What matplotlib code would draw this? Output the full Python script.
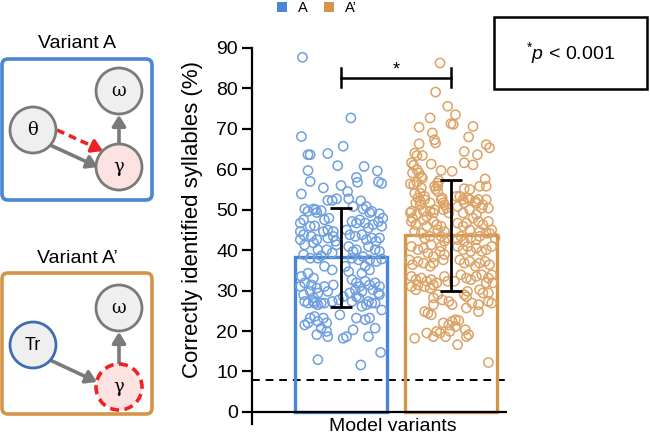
import matplotlib
matplotlib.use("Agg")
import matplotlib.pyplot as plt
from matplotlib.patches import FancyBboxPatch, Circle, FancyArrowPatch, Rectangle
import numpy as np

plt.rcParams['font.family'] = ['Liberation Sans', 'DejaVu Sans']
plt.rcParams['mathtext.fontset'] = 'custom'
plt.rcParams['mathtext.rm'] = 'Liberation Sans'
plt.rcParams['mathtext.it'] = 'Liberation Sans:italic'

# ---------------- data ----------------
categories = ["A", "A\u2019"]
bar_means = [38.2, 43.7]
bar_sd = [12.2, 13.7]
chance_level = 7.8
sig_label = "*"
y_ticks = [0, 10, 20, 30, 40, 50, 60, 70, 80, 90]

# individual points: (horizontal jitter offset within bar, value %)
points_A = [
    (-0.35, 87.7), (0.09, 72.7), (-0.36, 68.1), (-0.30, 63.6), (-0.28, 63.6), (-0.12, 63.9),
    (0.02, 65.7), (-0.30, 59.7), (-0.03, 60.9), (0.21, 60.7), (0.33, 59.6), (-0.28, 57.0),
    (0.14, 58.0), (0.15, 56.8), (0.34, 56.9), (0.37, 56.5), (-0.36, 53.9), (-0.16, 55.4),
    (0.00, 56.0), (0.06, 54.5), (-0.12, 52.3), (-0.08, 52.3), (-0.04, 52.7), (0.07, 52.7),
    (0.18, 52.2), (-0.33, 50.2), (-0.30, 49.6), (-0.25, 50.2), (-0.23, 50.0), (-0.18, 49.8),
    (0.11, 50.8), (0.20, 50.2), (0.26, 49.3), (0.28, 49.6), (0.35, 49.0), (-0.22, 49.3),
    (0.23, 50.8), (0.38, 47.9), (-0.37, 46.7), (-0.34, 47.5), (-0.28, 45.9), (-0.24, 46.0),
    (-0.15, 47.5), (-0.11, 47.9), (0.10, 47.1), (0.14, 46.7), (0.17, 47.5), (-0.37, 44.6),
    (-0.34, 43.8), (-0.37, 42.6), (-0.27, 43.4), (-0.22, 42.6), (-0.16, 44.6), (-0.12, 45.0),
    (-0.07, 44.6), (-0.12, 43.0), (-0.07, 43.4), (-0.05, 42.2), (-0.04, 41.3), (0.05, 45.0),
    (0.08, 43.8), (0.13, 43.4), (0.22, 46.7), (0.25, 45.5), (0.29, 46.3), (0.34, 47.1),
    (0.37, 45.9), (0.19, 43.8), (0.23, 42.6), (0.28, 43.0), (0.32, 42.2), (0.35, 43.0),
    (-0.33, 41.3), (-0.25, 41.8), (-0.21, 40.1), (-0.13, 40.1), (-0.08, 39.3), (0.07, 40.9),
    (0.11, 39.7), (0.14, 40.1), (0.25, 40.9), (0.31, 40.1), (0.35, 39.7), (-0.34, 38.9),
    (-0.28, 38.0), (-0.21, 38.0), (-0.18, 38.6), (0.10, 38.0), (0.16, 37.6), (0.20, 38.4),
    (0.26, 37.6), (0.32, 37.2), (0.37, 37.8), (-0.15, 36.0), (-0.08, 35.1), (0.04, 36.0),
    (0.07, 34.7), (0.22, 36.0), (0.26, 35.1), (0.19, 34.3), (-0.36, 33.5), (-0.30, 34.3),
    (-0.25, 33.1), (-0.33, 31.9), (-0.37, 31.0), (-0.27, 31.4), (-0.22, 30.6), (-0.28, 29.8),
    (-0.21, 29.4), (-0.34, 29.0), (-0.25, 28.2), (-0.15, 31.0), (-0.12, 29.8), (-0.07, 31.4),
    (0.10, 32.7), (0.14, 31.9), (0.17, 31.0), (0.13, 30.2), (0.08, 29.4), (0.19, 29.8),
    (0.14, 28.5), (0.22, 32.3), (0.26, 31.4), (0.31, 31.9), (0.35, 31.0), (0.29, 30.2),
    (0.34, 29.4), (-0.33, 27.3), (-0.24, 26.9), (-0.15, 26.9), (0.25, 27.3), (0.31, 26.9),
    (0.10, 27.3), (-0.30, 26.9), (-0.25, 27.3), (-0.21, 26.5), (-0.18, 26.9), (-0.08, 27.3),
    (-0.02, 27.7), (0.02, 28.5), (0.16, 28.2), (0.19, 26.1), (0.23, 26.5), (0.28, 26.9),
    (0.35, 29.0), (0.37, 25.2), (-0.28, 23.2), (-0.24, 23.6), (-0.21, 22.4), (-0.16, 23.2),
    (-0.13, 22.0), (-0.33, 21.5), (-0.30, 22.0), (-0.18, 20.7), (-0.13, 19.9), (-0.22, 19.1),
    (-0.12, 18.6), (-0.01, 24.0), (0.14, 23.2), (0.11, 20.3), (0.02, 18.2), (0.05, 18.6),
    (0.22, 22.8), (0.26, 23.2), (0.31, 20.7), (0.25, 18.6), (-0.21, 12.9), (0.18, 11.6),
    (0.36, 14.7),
]

points_B = [
    (-0.10, 86.3), (-0.14, 79.1), (-0.03, 75.6), (0.04, 73.5), (0.00, 71.3), (0.02, 71.1),
    (-0.19, 72.7), (-0.29, 70.4), (-0.17, 69.0), (-0.15, 67.3), (-0.14, 66.5), (-0.29, 66.3),
    (-0.33, 64.0), (-0.31, 63.4), (-0.26, 63.4), (-0.36, 61.6), (-0.34, 61.0), (-0.18, 61.3),
    (0.12, 64.4), (0.16, 68.0), (0.20, 70.6), (0.12, 61.6), (0.20, 61.1), (0.24, 63.6),
    (0.35, 65.3), (0.32, 66.1), (0.01, 59.5), (-0.09, 59.7), (-0.31, 59.9), (-0.29, 59.1),
    (-0.26, 57.8), (-0.11, 57.2), (-0.12, 55.9), (-0.14, 55.1), (-0.12, 54.5), (-0.37, 56.4),
    (-0.34, 56.2), (-0.31, 56.8), (-0.27, 55.4), (-0.28, 54.1), (0.12, 55.2), (0.31, 57.6),
    (0.32, 55.8), (0.26, 55.8), (0.17, 55.0), (0.08, 53.3), (0.11, 52.5), (0.17, 52.5),
    (0.22, 52.1), (0.25, 52.5), (-0.30, 52.9), (-0.28, 52.1), (-0.24, 52.5), (-0.19, 51.7),
    (-0.08, 52.9), (-0.07, 51.7), (-0.04, 50.4), (-0.02, 49.2), (-0.37, 49.2), (-0.31, 48.8),
    (-0.25, 49.6), (-0.16, 49.2), (-0.15, 50.0), (-0.22, 48.3), (0.11, 49.2), (0.17, 50.0),
    (0.23, 48.8), (0.23, 51.6), (0.29, 51.2), (-0.35, 59.1), (-0.27, 58.2), (-0.15, 55.8),
    (-0.12, 56.6), (-0.24, 53.3), (-0.33, 54.1), (-0.32, 51.7), (-0.28, 51.2), (-0.36, 49.6),
    (-0.35, 47.9), (-0.19, 49.6), (-0.09, 52.5), (-0.06, 51.2), (-0.07, 50.0), (0.05, 53.3),
    (0.12, 51.7), (0.06, 50.8), (0.15, 52.9), (0.32, 52.5), (0.28, 50.4), (0.34, 50.4),
    (-0.36, 47.1), (-0.32, 46.3), (-0.25, 47.5), (-0.22, 45.9), (-0.16, 47.1), (-0.13, 46.3),
    (-0.12, 45.0), (-0.09, 45.9), (-0.06, 44.6), (0.06, 46.7), (0.11, 45.9), (0.14, 46.7),
    (0.17, 45.0), (0.20, 47.9), (0.25, 47.1), (0.29, 46.3), (0.34, 47.1), (0.37, 45.0),
    (0.32, 44.2), (0.26, 44.6), (-0.33, 44.6), (-0.27, 44.2), (-0.24, 43.0), (-0.19, 43.4),
    (-0.09, 43.4), (-0.06, 42.2), (-0.03, 43.0), (0.06, 42.6), (0.12, 42.2), (0.09, 43.4),
    (0.18, 43.0), (0.23, 42.6), (0.26, 43.4), (0.35, 44.2), (0.40, 43.0), (-0.36, 40.9),
    (-0.30, 40.1), (-0.25, 40.5), (-0.18, 41.3), (-0.21, 39.3), (-0.16, 38.4), (-0.09, 40.9),
    (-0.10, 39.7), (-0.06, 38.9), (-0.07, 37.6), (0.06, 40.9), (0.11, 40.1), (0.15, 40.9),
    (0.18, 39.7), (0.23, 40.5), (0.28, 39.7), (0.32, 40.1), (0.37, 40.9), (-0.38, 37.6),
    (-0.35, 36.4), (-0.30, 37.2), (-0.25, 36.8), (-0.19, 36.0), (-0.16, 36.8), (0.08, 37.6),
    (0.12, 36.8), (0.17, 37.2), (0.22, 36.0), (0.26, 36.8), (0.31, 37.2), (0.35, 36.4),
    (-0.36, 33.5), (-0.32, 32.7), (-0.27, 33.1), (-0.22, 32.3), (-0.18, 32.7), (-0.13, 31.9),
    (-0.30, 31.4), (-0.06, 33.5), (-0.03, 32.3), (0.03, 32.3), (0.09, 33.9), (0.14, 33.1),
    (0.18, 32.7), (0.23, 33.5), (0.28, 33.9), (0.34, 33.1), (0.37, 33.9), (0.32, 31.9),
    (0.38, 31.9), (-0.36, 31.0), (-0.32, 30.2), (-0.24, 31.0), (-0.19, 30.6), (-0.16, 31.4),
    (0.15, 29.8), (0.26, 30.2), (0.34, 29.4), (-0.12, 29.0), (0.12, 29.0), (-0.16, 28.2),
    (-0.08, 27.7), (-0.02, 27.3), (0.01, 26.5), (0.14, 28.5), (0.19, 26.9), (0.25, 26.5),
    (0.29, 29.4), (0.34, 27.3), (0.37, 26.9), (-0.24, 24.8), (-0.21, 24.4), (-0.18, 24.0),
    (-0.16, 26.5), (0.14, 25.7), (0.25, 24.8), (-0.07, 22.0), (-0.02, 21.5), (0.01, 22.4),
    (0.04, 22.8), (0.07, 22.6), (-0.13, 19.9), (-0.10, 19.5), (-0.05, 18.6), (-0.01, 19.9),
    (0.04, 21.1), (-0.33, 18.2), (-0.22, 19.5), (-0.16, 18.6), (0.13, 20.3), (0.16, 19.1),
    (0.14, 18.6), (0.06, 16.6), (0.34, 12.2),
]

# ---------------- style ----------------
blue = "#4a86d2"
blue_pt = "#6f9fe0"
orange = "#d4954a"
orange_pt = "#dda265"
W, H = 650, 436
fig = plt.figure(figsize=(W / 100, H / 100), dpi=100)

ax = fig.add_axes([252 / W, (H - 424) / H, (507 - 252) / W, (424 - 48) / H])
xpos = [1, 2]
ax.set_xlim(0.191, 2.509)
ax.set_ylim(-3, 90)

bar_colors = [blue, orange]
pt_colors = [blue_pt, orange_pt]
for xi, m, c in zip(xpos, bar_means, bar_colors):
    ax.bar(xi, m, width=0.845, facecolor="none", edgecolor=c, linewidth=2.4, zorder=2)

for xi, pts, c in zip(xpos, [points_A, points_B], pt_colors):
    xs = [xi + p[0] for p in pts]
    ys = [p[1] for p in pts]
    ax.scatter(xs, ys, s=44, facecolors="none", edgecolors=c, linewidths=1.1, zorder=3)

ax.errorbar(xpos, bar_means, yerr=bar_sd, fmt="none", ecolor="black", elinewidth=2,
            capsize=8, capthick=2, zorder=5)

ax.axhline(chance_level, color="black", linestyle=(0, (4, 3)), linewidth=1.4, zorder=1)
ax.axhline(0, color="black", linewidth=1.6, zorder=6)

# significance bracket
yb, yt0, yt1 = 82.6, 80.3, 85.0
ax.plot([xpos[0], xpos[1]], [yb, yb], color="black", lw=1.8, zorder=6)
ax.plot([xpos[0], xpos[0]], [yt0, yt1], color="black", lw=1.8, zorder=6)
ax.plot([xpos[1], xpos[1]], [yt0, yt1], color="black", lw=1.8, zorder=6)
ax.text((xpos[0] + xpos[1]) / 2, 84.6, sig_label, ha="center", va="center", fontsize=13)

for s in ["top", "right", "bottom"]:
    ax.spines[s].set_visible(False)
ax.spines["left"].set_linewidth(1.6)
ax.spines["left"].set_bounds(-3, 90)
ax.set_xticks([])
ax.set_yticks(y_ticks)
ax.tick_params(axis="y", length=7, width=1.6, labelsize=14, pad=3)

fig.text(193 / W, 1 - 220 / H, "Correctly identified syllables (%)", rotation=90,
         ha="center", va="center", fontsize=16)
fig.text(393 / W, 1 - 426 / H, "Model variants", ha="center", va="center", fontsize=14)

# legend
fig.patches.append(Rectangle((277 / W, 1 - 12.5 / H), 10 / W, 10 / H, transform=fig.transFigure,
                             facecolor=blue, edgecolor="none"))
fig.text(298 / W, 1 - 7.5 / H, categories[0], ha="left", va="center", fontsize=10.5)
fig.patches.append(Rectangle((324 / W, 1 - 12.5 / H), 10 / W, 10 / H, transform=fig.transFigure,
                             facecolor=orange, edgecolor="none"))
fig.text(345 / W, 1 - 7.5 / H, categories[1], ha="left", va="center", fontsize=10.5)

# p-value box
fig.patches.append(Rectangle((494 / W, 1 - 89 / H), 153 / W, 72 / H, transform=fig.transFigure,
                             facecolor="white", edgecolor="black", linewidth=1.8))
fig.text(570 / W, 1 - 53 / H, r"$^{*}\mathit{p}$ < 0.001", ha="center", va="center", fontsize=14)

# ---------------- diagrams ----------------
dax = fig.add_axes([0, 0, 1, 1], zorder=-1)
dax.set_xlim(0, W)
dax.set_ylim(H, 0)
dax.axis("off")

gray_edge = "#7a7a7a"
node_fill = "#efefef"
pink = "#fde2e2"
red = "#ee2222"
r = 23


def panel(x0, y0, x1, y1, color, title):
    dax.add_patch(FancyBboxPatch((x0 + 4, y0 + 4), x1 - x0 - 8, y1 - y0 - 8,
                                 boxstyle="round,pad=4,rounding_size=6",
                                 facecolor="white", edgecolor=color, linewidth=2.6))
    dax.text((x0 + x1) / 2, y0 - 15, title, ha="center", va="center", fontsize=14)


def node(cx, cy, label, fill=node_fill, edge=gray_edge, ls="-", lw=2.0):
    dax.add_patch(Circle((cx, cy), r, facecolor=fill, edgecolor=edge, linewidth=lw,
                         linestyle=ls, zorder=3))
    dax.text(cx, cy, label, ha="center", va="center", fontsize=13, zorder=4,
             family=["DejaVu Serif"] if label != "Tr" else ["Liberation Sans"])


def arrow(p0, p1, color=gray_edge, lw=2.6):
    dax.add_patch(FancyArrowPatch(p0, p1, arrowstyle="-|>,head_length=3.2,head_width=2.0",
                                  color=color, linewidth=lw,
                                  shrinkA=0, shrinkB=0, zorder=2, mutation_scale=2))


def dashed_arrow(p0, p1, color=red, lw=2.6):
    p0 = np.array(p0, float)
    p1 = np.array(p1, float)
    d = (p1 - p0) / np.hypot(*(p1 - p0))
    mid = p1 - d * 8
    dax.plot([p0[0], mid[0]], [p0[1], mid[1]], color=color, lw=lw,
             linestyle=(0, (2.2, 1.4)), zorder=2, solid_capstyle="butt")
    arrow(tuple(mid - d * 1), tuple(p1), color=color, lw=lw)


# Variant A
panel(2, 59, 152, 200, blue, "Variant A")
arrow((50, 145), (98, 167))
dashed_arrow((57, 130), (103, 151))
arrow((119, 144), (119, 115))
node(33, 130, "\u03b8")
node(119, 91, "\u03c9")
node(119, 167, "\u03b3", fill=pink)

# Variant A'
panel(2, 273, 152, 414, orange, "Variant A\u2019")
arrow((50, 360), (97, 382))
arrow((119, 364), (119, 332))
node(33, 345, "Tr", edge="#3d6fb0")
node(119, 308, "\u03c9")
node(119, 387, "\u03b3", fill=pink, edge=red, ls=(0, (2.5, 1.5)), lw=2.6)

fig.savefig("out.png", dpi=100)
